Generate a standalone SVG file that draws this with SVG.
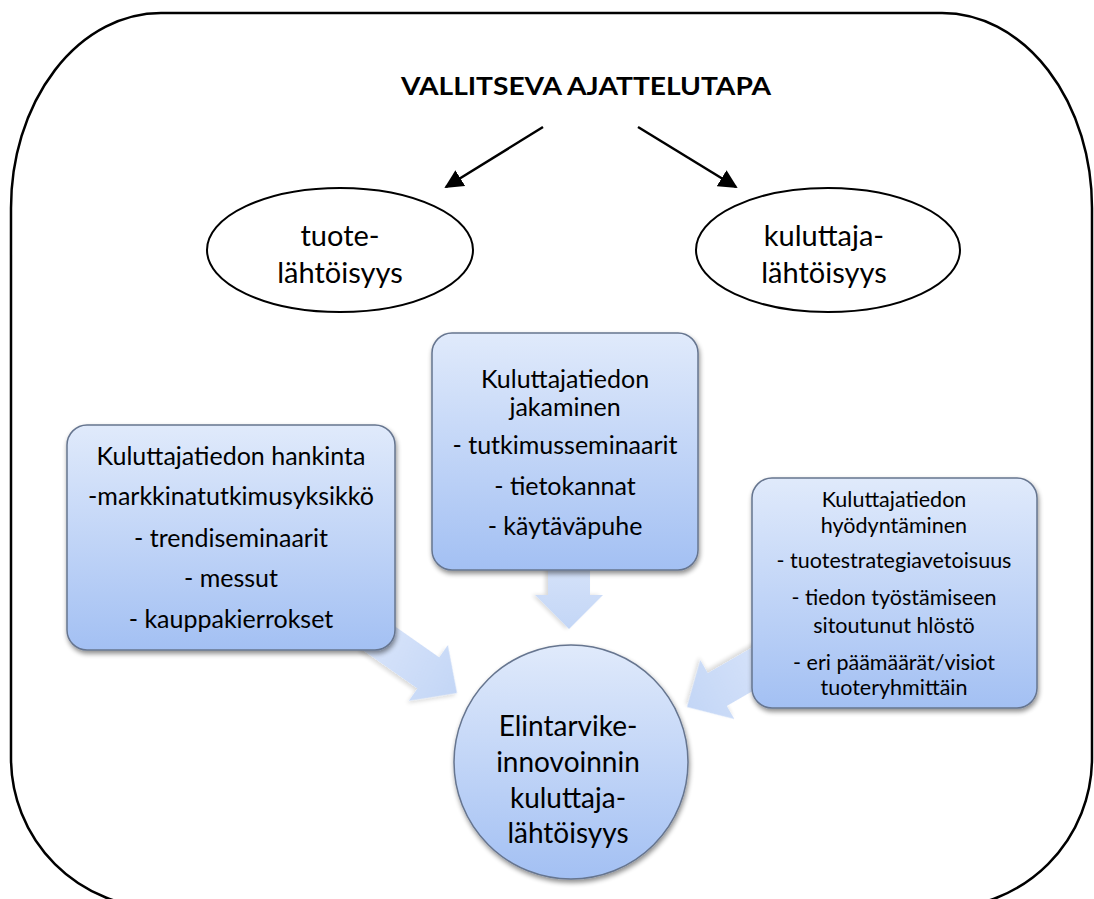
<svg xmlns="http://www.w3.org/2000/svg" width="1094" height="899" viewBox="0 0 1094 899">
  <defs>
    <linearGradient id="boxFill" x1="0" y1="0" x2="0" y2="1">
      <stop offset="0" stop-color="#e0eafb"/>
      <stop offset="1" stop-color="#a3c0f3"/>
    </linearGradient>
    <linearGradient id="flowFill" x1="0" y1="0" x2="1" y2="0">
      <stop offset="0" stop-color="#d8e4fa"/>
      <stop offset="1" stop-color="#c3d6f6"/>
    </linearGradient>
    <filter id="shadow" x="-10%" y="-10%" width="125%" height="125%">
      <feGaussianBlur in="SourceAlpha" stdDeviation="2.5"/>
      <feOffset dx="1" dy="3" result="b"/>
      <feComponentTransfer><feFuncA type="linear" slope="0.45"/></feComponentTransfer>
      <feMerge><feMergeNode/><feMergeNode in="SourceGraphic"/></feMerge>
    </filter>
    <filter id="softShadow" x="-20%" y="-20%" width="140%" height="140%">
      <feGaussianBlur in="SourceAlpha" stdDeviation="2"/>
      <feOffset dx="0" dy="3" result="b"/>
      <feComponentTransfer><feFuncA type="linear" slope="0.15"/></feComponentTransfer>
      <feMerge><feMergeNode/><feMergeNode in="SourceGraphic"/></feMerge>
    </filter>
    <marker id="headBig" viewBox="0 0 10 10" refX="9" refY="5" markerWidth="7.5" markerHeight="7.5" orient="auto">
      <path d="M0,0 L10,5 L0,10 Z" fill="#000"/>
    </marker>
  </defs>
  <style>
    text { font-family: Lato, "Liberation Sans", sans-serif; fill: #000; text-anchor: middle; }
    .title { font-weight: bold; font-size: 25px; }
    .oval { fill: #fff; stroke: #000; stroke-width: 2; }
    .ovalText { font-size: 29px; }
    .box { fill: url(#boxFill); stroke: #66758f; stroke-width: 1.5; filter: url(#shadow); }
    .boxText { font-size: 25px; }
    .smallText { font-size: 21.5px; }
    .hubText { font-size: 28px; }
    .flow { fill: url(#flowFill); filter: url(#softShadow); }
    .line { stroke: #000; stroke-width: 2.5; fill: none; }
  </style>

  <rect width="1094" height="899" fill="#fff"/>

  <!-- outer frame -->
  <path id="frame" d="M161,13 H942 A150,195 0 0 1 1092,208 V758 A150,150 0 0 1 942,908 H161 A150,150 0 0 1 11,758 V208 A150,195 0 0 1 161,13 Z" fill="none" stroke="#000" stroke-width="2.5"/>

  <g id="title">
    <text class="title" x="586" y="95" textLength="370" lengthAdjust="spacingAndGlyphs">VALLITSEVA AJATTELUTAPA</text>
  </g>

  <!-- connectors -->
  <g id="connectors">
    <line class="line" x1="543" y1="127" x2="446" y2="187" marker-end="url(#headBig)"/>
    <line class="line" x1="638" y1="127" x2="736" y2="187" marker-end="url(#headBig)"/>
    <!-- block arrows into the hub; tip at origin, pointing along +x -->
    <polygon class="flow" transform="translate(457,693) rotate(35)" points="-105,-19 -35,-19 -35,-34 0,0 -35,34 -35,19 -105,19"/>
    <polygon class="flow" transform="translate(569,629) rotate(90)" points="-75,-21 -34,-21 -34,-34 0,0 -34,34 -34,21 -75,21"/>
    <polygon class="flow" transform="translate(687,707) rotate(150)" points="-105,-19 -35,-19 -35,-34 0,0 -35,34 -35,19 -105,19"/>
  </g>

  <g id="tuote">
    <ellipse class="oval" cx="340" cy="250" rx="133" ry="62"/>
    <text class="ovalText" x="340" y="246">tuote-</text>
    <text class="ovalText" x="340" y="283">lähtöisyys</text>
  </g>

  <g id="kuluttaja">
    <ellipse class="oval" cx="828" cy="250" rx="132" ry="62"/>
    <text class="ovalText" x="824" y="246">kuluttaja-</text>
    <text class="ovalText" x="824" y="283">lähtöisyys</text>
  </g>

  <g id="hankinta">
    <rect class="box" x="67" y="425" width="328" height="225" rx="20"/>
    <text class="boxText" x="231" y="465">Kuluttajatiedon hankinta</text>
    <text class="boxText" x="231" y="505">-markkinatutkimusyksikkö</text>
    <text class="boxText" x="231" y="547">- trendiseminaarit</text>
    <text class="boxText" x="231" y="587">- messut</text>
    <text class="boxText" x="231" y="628">- kauppakierrokset</text>
  </g>

  <g id="jakaminen">
    <rect class="box" x="432" y="333" width="266" height="237" rx="20"/>
    <text class="boxText" x="565" y="388">Kuluttajatiedon</text>
    <text class="boxText" x="565" y="416">jakaminen</text>
    <text class="boxText" x="565" y="454">- tutkimusseminaarit</text>
    <text class="boxText" x="565" y="495">- tietokannat</text>
    <text class="boxText" x="565" y="535">- käytäväpuhe</text>
  </g>

  <g id="hyodyntaminen">
    <rect class="box" x="752" y="478" width="285" height="230" rx="20"/>
    <text class="smallText" x="894" y="507">Kuluttajatiedon</text>
    <text class="smallText" x="894" y="533">hyödyntäminen</text>
    <text class="smallText" x="894" y="568">- tuotestrategiavetoisuus</text>
    <text class="smallText" x="894" y="605">- tiedon työstämiseen</text>
    <text class="smallText" x="894" y="633">sitoutunut hlöstö</text>
    <text class="smallText" x="894" y="670">- eri päämäärät/visiot</text>
    <text class="smallText" x="894" y="695">tuoteryhmittäin</text>
  </g>

  <g id="hub">
    <circle class="box" cx="571" cy="762" r="117" stroke="#7a7f88"/>
    <text class="hubText" x="568" y="736">Elintarvike-</text>
    <text class="hubText" x="568" y="772">innovoinnin</text>
    <text class="hubText" x="568" y="808">kuluttaja-</text>
    <text class="hubText" x="568" y="843">lähtöisyys</text>
  </g>
</svg>
